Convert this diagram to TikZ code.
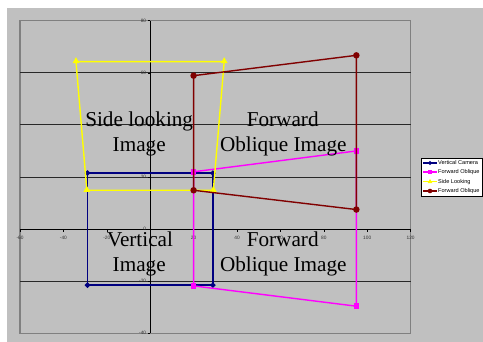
\documentclass[tikz,border=0pt]{standalone}
\usepackage{fontspec}
\setmainfont{Liberation Serif}
\newfontfamily\axfont{Liberation Sans}
\usetikzlibrary{shapes.geometric}
\definecolor{bggray}{RGB}{192,192,192}
\definecolor{bordgray}{RGB}{128,128,128}
\definecolor{gridc}{RGB}{40,40,40}
\definecolor{navyc}{RGB}{0,0,128}
\definecolor{magc}{RGB}{255,0,255}
\definecolor{yelc}{RGB}{255,255,0}
\definecolor{redc}{RGB}{128,0,0}
\begin{document}
\begin{tikzpicture}[x=1pt,y=1pt,
  series/.style={line width=1.4pt},
  mdiam/.style={diamond, fill=navyc, inner sep=0pt, minimum width=6pt, minimum height=6pt},
  msq/.style={rectangle, fill=magc, inner sep=0pt, minimum size=5.5pt},
  mtri/.style={regular polygon, regular polygon sides=3, fill=yelc, inner sep=0pt, minimum size=8pt},
  mcirc/.style={circle, fill=redc, inner sep=0pt, minimum size=6.5pt},
  bigtxt/.style={font=\fontsize{21.2}{25}\selectfont, anchor=base, inner sep=0pt},
  ticklab/.style={font=\axfont\fontsize{4.8}{5}\selectfont, inner sep=0pt, text=black!80},
  legtxt/.style={font=\axfont\fontsize{5.6}{6}\selectfont, anchor=west, inner sep=0pt},
  gridl/.style={gridc, line width=0.9pt},
  axl/.style={black, line width=0.9pt}]
\useasboundingbox (0,0) rectangle (483,342);
\fill[white] (0,0) rectangle (483,342);
\fill[bggray] (7,0) rectangle (483,334);
\begin{scope}[shift={(150.2pt,112.9pt)}, x=2.17pt, y=2.605pt]
  % plot area
  \draw[bordgray, line width=1.3pt] (-60,-40) rectangle (120,80);
  \foreach \g in {60,40,20,-20} \draw[gridl] (-60,\g) -- (120,\g);
  \draw[bordgray, line width=1.3pt] (-60,80) -- (120,80);
  \draw[axl] (-60,0) -- (120,0);
  \draw[axl] (0,-40) -- (0,80);
  \foreach \t in {-60,-40,...,120} \draw[black, line width=0.5pt] (\t,0) -- ++(0,-1.2);
  \foreach \t in {-40,-20,...,80} \draw[black, line width=0.5pt] (0,\t) -- ++(-1.2,0);
  \foreach \t in {-60,-40,-20,20,40,60,80,100,120}
    \node[ticklab] (xl\t) at (\t,-3.3) {\t};
  \foreach \t in {-40,-20,0,20,40,60,80}
    \node[ticklab, anchor=east] (yl\t) at (-1.8,\t) {\t};
  % coordinates
  \coordinate (v1) at (-28.9,21.5);
  \coordinate (v2) at (28.9,21.5);
  \coordinate (v3) at (28.9,-21.5);
  \coordinate (v4) at (-28.9,-21.5);
  \coordinate (f1) at (20,22);
  \coordinate (f2) at (95,30);
  \coordinate (f3) at (95,-29.6);
  \coordinate (f4) at (20,-21.8);
  \coordinate (s1) at (-34.2,64.3);
  \coordinate (s2) at (34.1,64.3);
  \coordinate (s3) at (29.1,14.9);
  \coordinate (s4) at (-29.2,14.9);
  \coordinate (r1) at (20,58.9);
  \coordinate (r2) at (95,66.7);
  \coordinate (r3) at (95,7.5);
  \coordinate (r4) at (20,14.9);
  % vertical camera
  \draw[series, navyc] (v1) -- (v2) -- (v3) -- (v4) -- cycle;
  \foreach \p in {v1,v2,v3,v4} \node[mdiam] at (\p) {};
  % forward oblique (magenta)
  \draw[series, magc] (f1) -- (f2) -- (f3) -- (f4) -- cycle;
  \foreach \p in {f1,f2,f3,f4} \node[msq] at (\p) {};
  % side looking
  \draw[series, yelc] (s1) -- (s2) -- (s3) -- (s4) -- cycle;
  \foreach \p in {s1,s2,s3,s4} \node[mtri] at ([yshift=0.4pt]\p) {};
  % forward oblique (dark red)
  \draw[series, redc] (r1) -- (r2) -- (r3) -- (r4) -- cycle;
  \foreach \p in {r1,r2,r3,r4} \node[mcirc] at (\p) {};
\end{scope}
% big labels
\node[bigtxt] (sl1) at (139.2,215) {Side looking};
\node[bigtxt] (sl2) at (139.2,190) {Image};
\node[bigtxt] (fo1) at (282.7,215) {Forward};
\node[bigtxt] (fo2) at (283.3,190) {Oblique Image};
\node[bigtxt] (vi1) at (140,95) {Vertical};
\node[bigtxt] (vi2) at (139.2,70) {Image};
\node[bigtxt] (fb1) at (282.7,95) {Forward};
\node[bigtxt] (fb2) at (283.3,70) {Oblique Image};
% legend
\draw[black, fill=white, line width=0.8pt] (421.5,146) rectangle (482.3,183.7) node[coordinate] (legbox) {};
\foreach \yy/\cc/\mm/\tt in {179/navyc/mdiam/Vertical Camera, 170/magc/msq/Forward Oblique, 160.3/yelc/mtri/Side Looking, 151/redc/mcirc/Forward Oblique}{
  \draw[\cc, line width=1.2pt] (423.3,\yy) -- (436.7,\yy);
  \node[\mm, scale=0.7] at (430,\yy) {};
  \node[legtxt] at (438,\yy) {\tt};
}
\end{tikzpicture}
\end{document}
